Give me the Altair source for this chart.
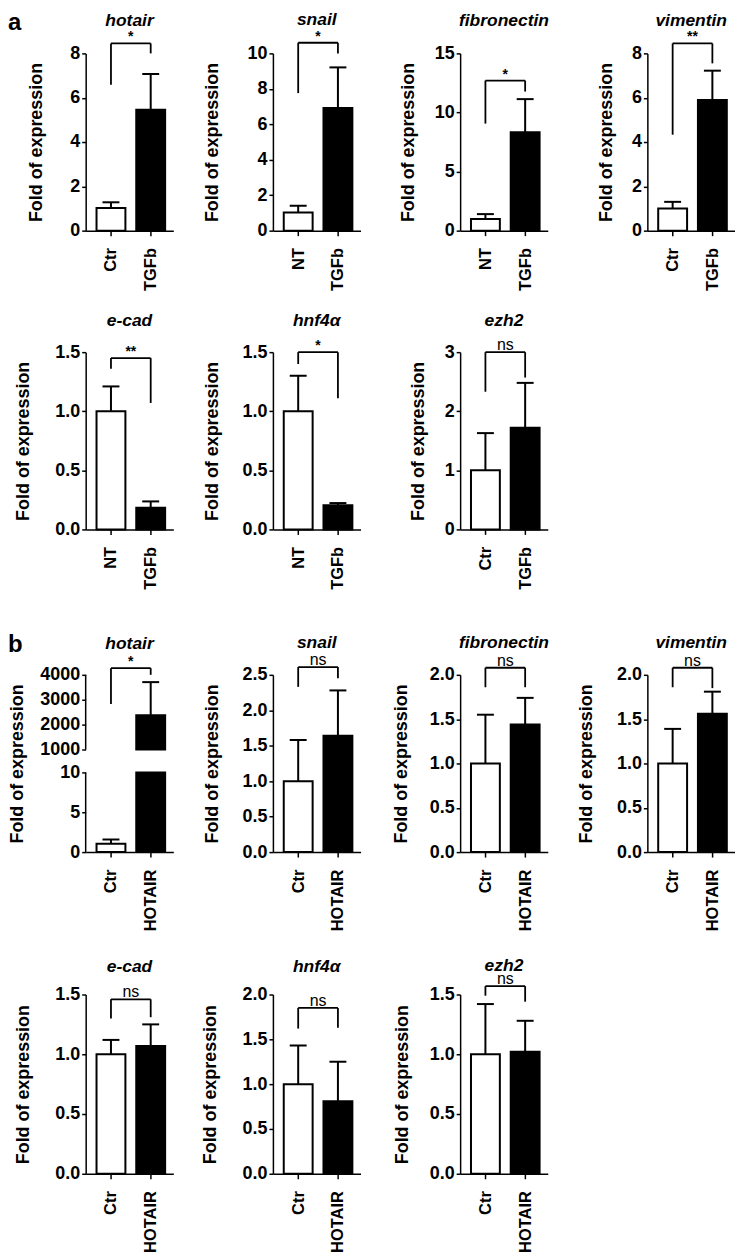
import altair as alt
import pandas as pd

# ---------------- data ----------------
genes = ["hotair", "snail", "fibronectin", "vimentin", "e-cad", "hnf4α", "ezh2"]

# panel a: TGF-beta treatment
a_ctrl_labels = ["Ctr", "NT", "NT", "Ctr", "NT", "NT", "Ctr"]
a_treat_label = "TGFb"
a_ctrl_mean = [1.02, 1.03, 0.98, 1.00, 1.00, 1.00, 1.00]
a_ctrl_err_top = [1.28, 1.40, 1.40, 1.30, 1.21, 1.30, 1.63]
a_treat_mean = [5.46, 6.92, 8.33, 5.90, 0.184, 0.204, 1.72]
a_treat_err_top = [7.07, 9.21, 11.13, 7.22, 0.237, 0.223, 2.48]
a_sig = ["*", "*", "*", "**", "**", "*", "ns"]
a_bracket_top = [8.45, 10.6, 12.7, 8.45, 1.45, 1.50, 3.00]
a_bracket_left = [6.58, 7.76, 9.06, 4.33, 1.36, 1.40, 2.33]
a_bracket_right = [8.00, 10.0, 11.77, 7.55, 1.07, 1.11, 2.57]
a_ticks = [[0, 2, 4, 6, 8], [0, 2, 4, 6, 8, 10], [0, 5, 10, 15], [0, 2, 4, 6, 8],
           [0, 0.5, 1.0, 1.5], [0, 0.5, 1.0, 1.5], [0, 1, 2, 3]]
a_tick_format = ["d", "d", "d", "d", ".1f", ".1f", "d"]

# panel b: HOTAIR overexpression
b_ctrl_labels = ["Ctr"] * 7
b_treat_label = "HOTAIR"
b_ctrl_mean = [1.04, 1.00, 1.00, 1.00, 1.00, 1.00, 1.00]
b_ctrl_err_top = [1.58, 1.58, 1.55, 1.39, 1.12, 1.43, 1.42]
b_treat_mean = [2373, 1.64, 1.44, 1.56, 1.07, 0.81, 1.02]
b_treat_err_top = [3707, 2.28, 1.74, 1.81, 1.25, 1.25, 1.28]
b_sig = ["*", "ns", "ns", "ns", "ns", "ns", "ns"]
b_bracket_top = [4267, 2.61, 2.08, 2.08, 1.46, 1.85, 1.57]
b_bracket_left = [2827, 2.33, 1.86, 1.86, 1.30, 1.62, 1.49]
b_bracket_right = [4000, 2.45, 1.86, 1.85, 1.31, 1.63, 1.44]
b_ticks = [[0, 5, 10, 1000, 2000, 3000, 4000], [0, 0.5, 1.0, 1.5, 2.0, 2.5],
           [0, 0.5, 1.0, 1.5, 2.0], [0, 0.5, 1.0, 1.5, 2.0], [0, 0.5, 1.0, 1.5],
           [0, 0.5, 1.0, 1.5, 2.0], [0, 0.5, 1.0, 1.5]]
b_tick_format = ["d", ".1f", ".1f", ".1f", ".1f", ".1f", ".1f"]
hotair_axis_break = [10, 1000]   # broken y axis of the HOTAIR panel (b)

# ---------------- layout / style ----------------
FONT = "Liberation Sans"
W = 88
X_DOMAIN = [-0.511, 1.444]


def panel(gene, ctrl_lab, trt_lab, cm, ce, tm, te, sig, btop, bl, br, ticks, fmt,
          title_offset, ytitle_pad, H=178, letter=None, axis_break=None):
    means = [cm, tm]
    etops = [ce, te]
    fills = ["white", "black"]
    bar_rows = []
    for i in range(2):
        if axis_break and means[i] > axis_break[0]:
            bar_rows.append({"x": i, "lo": 0, "hi": axis_break[0], "fill": fills[i]})
            bar_rows.append({"x": i, "lo": axis_break[1], "hi": means[i], "fill": fills[i]})
        else:
            bar_rows.append({"x": i, "lo": 0, "hi": means[i], "fill": fills[i]})
    bar_df = pd.DataFrame(bar_rows)
    err_df = pd.DataFrame({"x": [0, 1], "m": means, "e": etops})
    br_df = pd.DataFrame({"x": [0, 0, 1], "x2": [0, 1, 1],
                          "y": [bl, btop, br], "y2": [btop, btop, btop]})
    sig_df = pd.DataFrame({"x": [0.5], "y": [btop], "t": [sig]})

    xs = alt.Scale(domain=X_DOMAIN, nice=False, zero=False)
    if axis_break:
        ys = alt.Scale(domain=[0, axis_break[0], axis_break[1], ticks[-1]],
                       range=[H, H - 80, H - 103, 0], nice=False, zero=False)
    else:
        ys = alt.Scale(domain=[0, ticks[-1]], nice=False, zero=False)

    label_expr = f"datum.value == 0 ? '{ctrl_lab}' : '{trt_lab}'"
    xaxis = alt.Axis(values=[0, 1], labelExpr=label_expr, title=None, labelAngle=-90,
                     labelAlign="right", labelBaseline="middle", labelPadding=12,
                     tickSize=5, labelFontSize=16.5, grid=False, labelFlush=False)
    yaxis = alt.Axis(values=ticks, format=fmt, title="Fold of expression",
                     titlePadding=ytitle_pad, tickSize=4, labelPadding=2,
                     labelFontSize=18, titleFontSize=18, grid=False,
                     domain=not axis_break, labelFlush=False, labelOverlap=False)

    X = lambda f: alt.X(f, scale=xs, axis=xaxis)
    Y = lambda f: alt.Y(f, scale=ys, axis=yaxis)

    bars = alt.Chart(bar_df).mark_bar(size=29, stroke="black", strokeWidth=2,
                                      orient="vertical").encode(
        x=X("x:Q"), y=Y("lo:Q"), y2="hi:Q",
        fill=alt.Fill("fill:N", scale=None),
    )
    err = alt.Chart(err_df).mark_rule(strokeWidth=2, color="black").encode(
        x=X("x:Q"), y=Y("m:Q"), y2="e:Q",
    )
    cap = alt.Chart(err_df).mark_tick(orient="horizontal", size=17, thickness=2,
                                      color="black", opacity=1).encode(
        x=X("x:Q"), y=Y("e:Q"),
    )
    bracket = alt.Chart(br_df).mark_rule(strokeWidth=1.8, color="black").encode(
        x=X("x:Q"), x2="x2:Q", y=Y("y:Q"), y2="y2:Q",
    )
    is_ns = sig == "ns"
    sigtext = alt.Chart(sig_df).mark_text(
        baseline="alphabetic", dy=-2, font=FONT, color="black",
        fontSize=16 if is_ns else 14, fontWeight="normal" if is_ns else "bold",
    ).encode(x=X("x:Q"), y=Y("y:Q"), text="t:N")
    layers = [bars, err, cap, bracket, sigtext]
    if axis_break:
        dom_df = pd.DataFrame({"lo": [0, axis_break[1]], "hi": [axis_break[0], ticks[-1]]})
        layers.append(alt.Chart(dom_df).mark_rule(strokeWidth=1.5, color="black").encode(
            x=alt.value(0), y=Y("lo:Q"), y2="hi:Q"))
    # gene name above the panel
    layers.append(alt.Chart(pd.DataFrame({"t": [gene]})).mark_text(
        align="center", baseline="alphabetic", fontSize=17.5, fontWeight="bold",
        fontStyle="italic", font=FONT, color="black").encode(
        text="t:N", x=alt.value(W / 2), y=alt.value(-title_offset)))
    if letter:
        layers.append(alt.Chart(pd.DataFrame({"t": [letter]})).mark_text(
            align="left", baseline="alphabetic", fontSize=24, fontWeight="bold",
            font=FONT, color="black").encode(
            text="t:N", x=alt.value(-78), y=alt.value(-23)))
    return alt.layer(*layers).properties(width=W, height=H)


a_title_offsets = [28, 29, 28, 28, 26, 26, 26]
a_ytitle_pads = [24, 26, 17, 16, 22, 21, 17]
b_title_offsets = [26, 27, 27, 27, 23, 23, 24]
b_ytitle_pads = [13, 21, 19, 21, 22, 23, 18]
b_heights = [178, 178, 178, 178, 180, 180, 180]

panels_a = []
for i, g in enumerate(genes):
    panels_a.append(panel(g, a_ctrl_labels[i], a_treat_label, a_ctrl_mean[i], a_ctrl_err_top[i],
                          a_treat_mean[i], a_treat_err_top[i], a_sig[i], a_bracket_top[i],
                          a_bracket_left[i], a_bracket_right[i], a_ticks[i], a_tick_format[i],
                          a_title_offsets[i], a_ytitle_pads[i], letter="a" if i == 0 else None))
panels_b = []
for i, g in enumerate(genes):
    panels_b.append(panel(g, b_ctrl_labels[i], b_treat_label, b_ctrl_mean[i], b_ctrl_err_top[i],
                          b_treat_mean[i], b_treat_err_top[i], b_sig[i], b_bracket_top[i],
                          b_bracket_left[i], b_bracket_right[i], b_ticks[i], b_tick_format[i],
                          b_title_offsets[i], b_ytitle_pads[i], H=b_heights[i],
                          letter="b" if i == 0 else None,
                          axis_break=hotair_axis_break if i == 0 else None))

ga = alt.concat(*panels_a, columns=4, spacing={"row": 122, "column": 100}, bounds="flush")
gb = alt.concat(*panels_b, columns=4, spacing={"row": 143, "column": 100}, bounds="flush")

chart = alt.vconcat(ga, gb, spacing=43).properties(padding=0).configure_view(
    stroke=None
).configure_axis(
    domainColor="black", tickColor="black", labelColor="black", titleColor="black",
    labelFont=FONT, titleFont=FONT, labelFontWeight="bold", titleFontWeight="bold",
    domainWidth=1.5, tickWidth=1.5,
)

chart.save("out.html", embed_options={"renderer": "svg", "actions": False})
